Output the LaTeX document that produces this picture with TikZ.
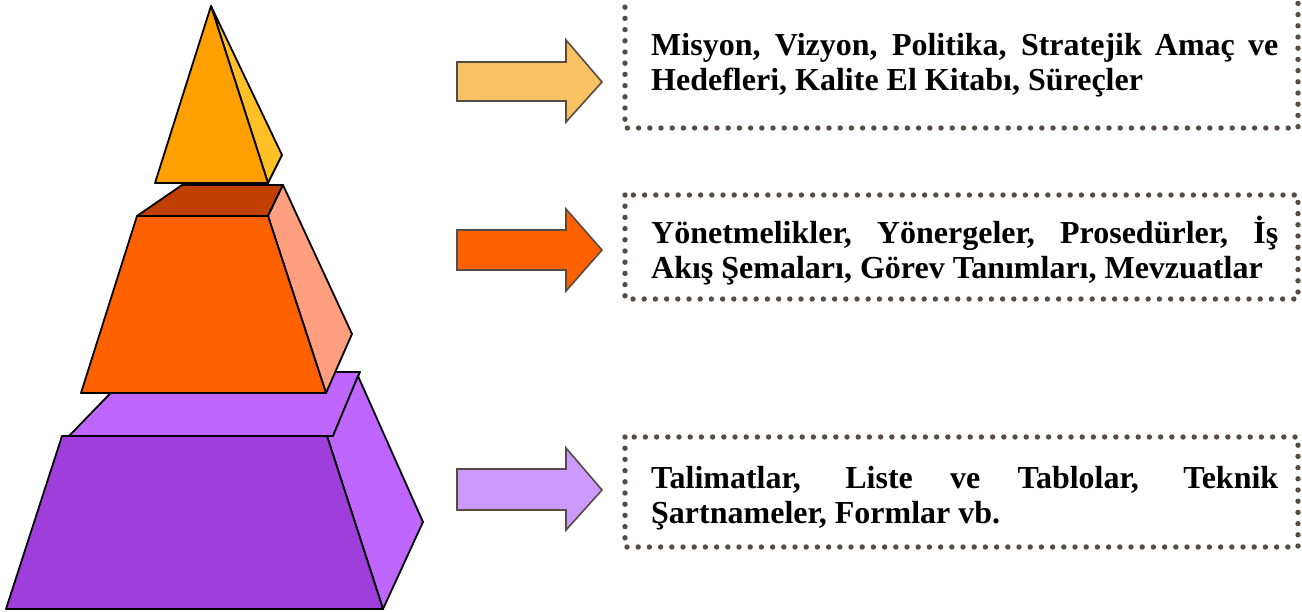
\documentclass[tikz,border=0pt]{standalone}
\usepackage{fontspec}
\setmainfont{Liberation Serif}
\definecolor{topFront}{HTML}{FFA000}
\definecolor{topSide}{HTML}{FFC125}
\definecolor{midTop}{HTML}{BF4000}
\definecolor{midFront}{HTML}{FF6000}
\definecolor{midSide}{HTML}{FF9F80}
\definecolor{botTop}{HTML}{BF66FF}
\definecolor{botFront}{HTML}{9E3FDC}
\definecolor{arrOne}{HTML}{F8C263}
\definecolor{arrTwo}{HTML}{FF6000}
\definecolor{arrThree}{HTML}{CC99FF}
\definecolor{edgeGray}{HTML}{574C44}
\tikzset{
  face/.style={draw=black, line width=1.8pt, line join=round},
  blockarrow/.style={draw=edgeGray, line width=1.6pt, line join=miter},
  dotbox/.style={draw=edgeGray, line width=5.4pt, line cap=round, dash pattern=on 0pt off 11.2pt},
  txt/.style={inner sep=0pt, font=\fontsize{32}{36}\selectfont\bfseries, text=black}
}
\begin{document}
\begin{tikzpicture}[x=1pt,y=-1pt]
\useasboundingbox (0,0) rectangle (1302,611);
% ---- bottom block
\filldraw[face, fill=botTop] (69,436) -- (131,372) -- (360,372) -- (333,436) -- cycle;
\filldraw[face, fill=botTop] (327,436) -- (333,436) -- (358,376) -- (423,522) -- (383,609) -- cycle;
\filldraw[face, fill=botFront] (62,436) -- (327,436) -- (383,609) -- (6,609) -- cycle;
% ---- middle block
\filldraw[face, fill=midTop] (137,216) -- (182,185) -- (283,185) -- (268,216) -- cycle;
\filldraw[face, fill=midSide] (268,216) -- (283,185) -- (352,334) -- (326,393) -- cycle;
\filldraw[face, fill=midFront] (137,216) -- (268,216) -- (326,393) -- (81,393) -- cycle;
% ---- top pyramid
\filldraw[face, fill=topSide] (211,6) -- (282,155) -- (268,183) -- cycle;
\filldraw[face, fill=topFront] (211,6) -- (268,183) -- (155,183) -- cycle;
% ---- arrows
\filldraw[blockarrow, fill=arrOne] (457,62) -- (566,62) -- (566,40) -- (602,82) -- (566,122) -- (566,101) -- (457,101) -- cycle;
\filldraw[blockarrow, fill=arrTwo] (457,230) -- (566,230) -- (566,209) -- (602,250) -- (566,291) -- (566,270) -- (457,270) -- cycle;
\filldraw[blockarrow, fill=arrThree] (457,469) -- (566,469) -- (566,448) -- (602,490) -- (566,530) -- (566,510) -- (457,510) -- cycle;
% ---- dotted boxes
\draw[dotbox] (625,-4) rectangle (1298,128);
\draw[dotbox] (625,195) rectangle (1298,299);
\draw[dotbox] (625,437) rectangle (1298,547);
% ---- texts
\node (t1a) [txt, anchor=base west] at (651,55) {\makebox[627pt][s]{Misyon, Vizyon, Politika, Stratejik Amaç ve}};
\node (t1b) [txt, anchor=base west] at (651,90) {Hedefleri, Kalite El Kitabı, Süreçler};
\node (t2a) [txt, anchor=base west] at (651,243) {\makebox[627pt][s]{Yönetmelikler, Yönergeler, Prosedürler, İş}};
\node (t2b) [txt, anchor=base west] at (651,278) {Akış Şemaları, Görev Tanımları, Mevzuatlar};
\node (t3a) [txt, anchor=base west] at (651,488) {\makebox[627pt][s]{Talimatlar, Liste ve Tablolar, Teknik}};
\node (t3b) [txt, anchor=base west] at (651,523) {Şartnameler, Formlar vb.};
\end{tikzpicture}
\end{document}
